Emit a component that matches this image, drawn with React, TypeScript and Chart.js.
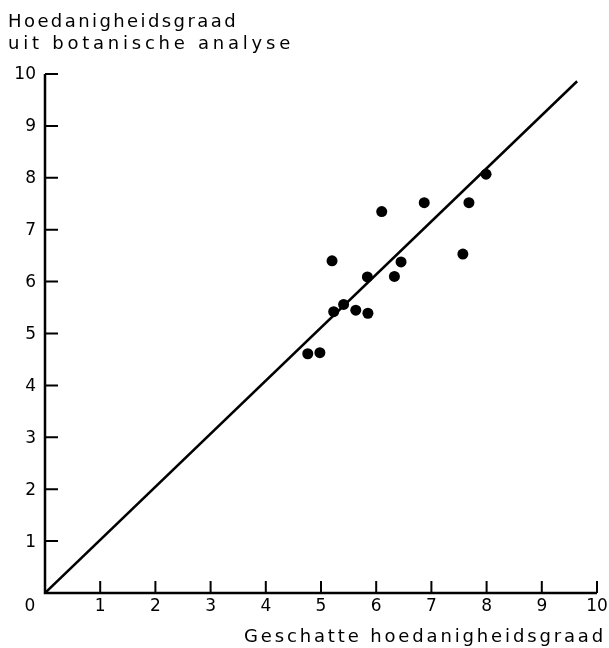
import React, { useEffect, useRef } from "react";
import { Chart, registerables } from "chart.js";

Chart.register(...registerables);

const estimatedQuality = [4.76, 4.98, 5.2, 5.23, 5.41, 5.63, 5.85, 5.84, 6.1, 6.33, 6.45, 6.87, 7.57, 7.68, 7.99];
const botanicalQuality = [4.61, 4.63, 6.4, 5.42, 5.56, 5.45, 5.39, 6.09, 7.35, 6.1, 6.38, 7.52, 6.53, 7.52, 8.07];
const lineX = [0, 9.64];
const lineY = [0, 9.86];
const xTickValues = [0, 1, 2, 3, 4, 5, 6, 7, 8, 9, 10];
const yTickValues = [1, 2, 3, 4, 5, 6, 7, 8, 9, 10];
const yTitleLines = ["Hoedanigheidsgraad", "uit botanische analyse"];
const xTitle = "Geschatte hoedanigheidsgraad";

const FONT = '"DejaVu Sans", sans-serif';

function fitText(ctx: CanvasRenderingContext2D, text: string, x: number, y: number, width: number) {
  (ctx as any).letterSpacing = "0px";
  const w = ctx.measureText(text).width;
  const n = text.length;
  const sp = n > 1 ? (width - w) / n : 0;
  (ctx as any).letterSpacing = sp + "px";
  ctx.fillText(text, x, y);
  (ctx as any).letterSpacing = "0px";
}

const axesPlugin = {
  id: "customAxes",
  afterDraw(chart: any) {
    const ctx: CanvasRenderingContext2D = chart.ctx;
    const xs = chart.scales.x;
    const ys = chart.scales.y;
    const x0 = xs.getPixelForValue(0);
    const x10 = xs.getPixelForValue(10);
    const y0 = ys.getPixelForValue(0);
    const y10 = ys.getPixelForValue(10);
    ctx.save();
    ctx.strokeStyle = "#000";
    ctx.lineWidth = 2.5;
    ctx.lineCap = "butt";
    ctx.beginPath();
    ctx.moveTo(x0, y10);
    ctx.lineTo(x0, y0);
    ctx.lineTo(x10, y0);
    ctx.stroke();
    ctx.lineWidth = 2;
    ctx.beginPath();
    yTickValues.forEach((v) => {
      const py = ys.getPixelForValue(v);
      ctx.moveTo(x0, py);
      ctx.lineTo(x0 + 13, py);
    });
    xTickValues.forEach((v) => {
      if (v === 0) return;
      const px = xs.getPixelForValue(v);
      ctx.moveTo(px, y0);
      ctx.lineTo(px, y0 - 12);
    });
    ctx.stroke();

    ctx.fillStyle = "#000";
    ctx.font = "17px " + FONT;
    ctx.textAlign = "right";
    ctx.textBaseline = "middle";
    yTickValues.forEach((v) => {
      const py = ys.getPixelForValue(v);
      ctx.fillText(String(v), x0 - 9, py + 1);
    });
    ctx.textAlign = "center";
    ctx.textBaseline = "middle";
    xTickValues.forEach((v) => {
      const px = v === 0 ? x0 - 15 : xs.getPixelForValue(v);
      ctx.fillText(String(v), px, y0 + 14);
    });

    ctx.font = "18px " + FONT;
    ctx.textAlign = "left";
    ctx.textBaseline = "alphabetic";
    fitText(ctx, yTitleLines[0], 8, 27, 230);
    fitText(ctx, yTitleLines[1], 8, 49, 286);
    fitText(ctx, xTitle, 244, 642, 362);
    ctx.restore();
  },
};

export default function App() {
  const ref = useRef<HTMLCanvasElement | null>(null);
  useEffect(() => {
    if (!ref.current) return;
    const chart = new Chart(ref.current, {
      type: "scatter",
      data: {
        datasets: [
          {
            type: "line",
            data: lineX.map((x, i) => ({ x, y: lineY[i] })),
            borderColor: "#000",
            borderWidth: 2.5,
            pointRadius: 0,
            fill: false,
          } as any,
          {
            type: "scatter",
            data: estimatedQuality.map((x, i) => ({ x, y: botanicalQuality[i] })),
            backgroundColor: "#000",
            borderColor: "#000",
            pointRadius: 5.5,
            borderWidth: 0,
          },
        ],
      },
      options: {
        responsive: false,
        animation: false,
        layout: { padding: { left: 45, right: 12, top: 74, bottom: 55 } },
        plugins: { legend: { display: false }, tooltip: { enabled: false } },
        scales: {
          x: { type: "linear", min: 0, max: 10, display: false },
          y: { type: "linear", min: 0, max: 10, display: false },
        },
      },
      plugins: [axesPlugin],
    });
    return () => chart.destroy();
  }, []);
  return (
    <div style={{ position: "absolute", left: 0, top: 0, width: 609, height: 648, background: "#fff" }}>
      <canvas ref={ref} width={609} height={648} />
    </div>
  );
}
